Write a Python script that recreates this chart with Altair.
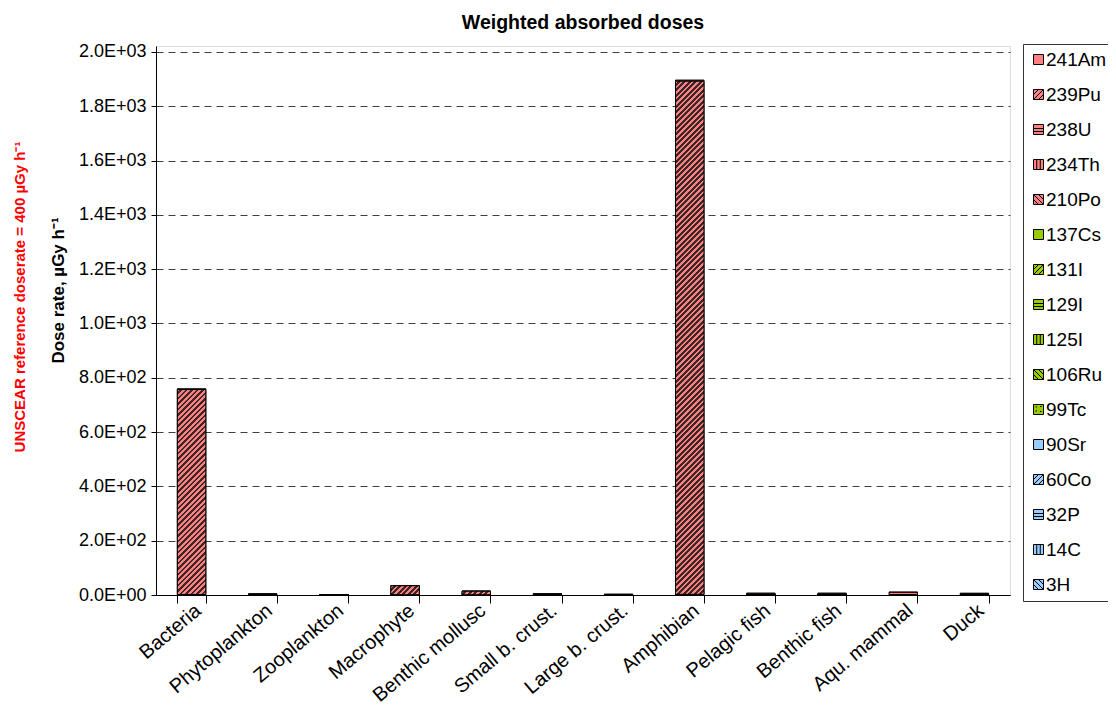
import altair as alt
import pandas as pd

categories = ["Bacteria", "Phytoplankton", "Zooplankton", "Macrophyte", "Benthic mollusc",
              "Small b. crust.", "Large b. crust.", "Amphibian", "Pelagic fish",
              "Benthic fish", "Aqu. mammal", "Duck"]
nuclides = ["241Am", "239Pu", "238U", "234Th", "210Po", "137Cs", "131I", "129I", "125I",
            "106Ru", "99Tc", "90Sr", "60Co", "32P", "14C", "3H"]
nuclide_colors = ["#FF8080"] * 5 + ["#99CC00"] * 6 + ["#99CCFF"] * 5

# dose rates per nuclide and organism (uGy/h)
am241 = [3.0, 0.5, 0.3, 1.0, 0.5, 0.5, 0.3, 4.0, 0.5, 0.5, 1.0, 0.5]
pu239 = [755.0, 3.0, 0.8, 33.0, 13.0, 3.5, 2.0, 1890.0, 4.5, 4.5, 8.0, 4.5]
po210 = [1.0, 0.5, 0.2, 0.5, 0.5, 0.3, 0.2, 1.0, 1.0, 1.0, 1.0, 0.8]
cs137 = [0.5, 0.2, 0.1, 0.3, 0.2, 0.2, 0.1, 1.0, 0.3, 0.3, 0.5, 0.3]
sr90 = [0.3, 0.1, 0.1, 0.2, 0.2, 0.1, 0.1, 0.5, 0.2, 0.2, 0.3, 0.2]
zeros = [0.0] * 12
series = {n: zeros for n in nuclides}
series.update({"241Am": am241, "239Pu": pu239, "210Po": po210, "137Cs": cs137, "90Sr": sr90})

title_text = "Weighted absorbed doses"
y_title = "Dose rate, µGy h⁻¹"
note_text = "UNSCEAR reference doserate = 400 µGy h⁻¹"
y_ticks = [0, 200, 400, 600, 800, 1000, 1200, 1400, 1600, 1800, 2000]

rows = []
for j, n in enumerate(nuclides):
    for i, c in enumerate(categories):
        rows.append({"category": c, "nuclide": n, "value": series[n][i],
                     "ord": len(nuclides) - 1 - j})
df = pd.DataFrame(rows)

# legend symbol paths hinting at the hatch of each series
SQ = "M-1,-1H1V1H-1Z"
FWD = SQ + " M-1,0L0,-1 M-1,1L1,-1 M0,1L1,0"
HOR = SQ + " M-1,-0.2H1 M-1,0.4H1"
VER = SQ + " M-0.35,-1V1 M0.35,-1V1"
BCK = SQ + " M-1,-1L1,1 M-1,0L0,1 M0,-1L1,0"
DOT = SQ + " M-0.6,-0.5h0.3 M0.3,-0.6h0.3 M0.3,0.4h0.3 M-0.6,0.3h0.3"
shape_paths = [SQ, FWD, HOR, VER, BCK, SQ, FWD, HOR, VER, BCK, DOT, SQ, FWD, HOR, VER, BCK]
shape_expr = ("[" + ",".join("'" + p + "'" for p in shape_paths) + "][indexof(["
              + ",".join("'" + n + "'" for n in nuclides) + "], datum.value)]")

PLOT_W, PLOT_H, Y_MAX = 854, 549, 2022
P_IN, P_OUT = 0.6, 0.3
FONT = "Liberation Sans"
SALMON, DARK = "#FF8080", "#3d2626"

x_enc = alt.X("category:N", sort=categories,
              scale=alt.Scale(paddingInner=P_IN, paddingOuter=P_OUT),
              axis=alt.Axis(title=None, labelAngle=-40, labelAlign="right",
                            labelBaseline="top", labelFontSize=20, labelFont=FONT,
                            labelColor="black", domainColor="black", tickColor="black",
                            tickSize=8, tickBand="extent",
                            labelPadding=alt.ExprRef(expr="-3"), grid=False))
y_scale = alt.Scale(domain=[0, Y_MAX], nice=False)
y_enc = alt.Y("y0:Q", scale=y_scale,
              axis=alt.Axis(title=y_title, values=y_ticks,
                            labelExpr="datum.value == 0 ? '0.0E+00' : format(datum.value / pow(10, floor(log(datum.value) / LN10 + 1e-9)), '.1f') + 'E+0' + floor(log(datum.value) / LN10 + 1e-9)",
                            labelFontSize=18, labelFont=FONT, labelColor="black",
                            domainColor="black", tickColor="black", tickSize=5,
                            labelPadding=5, gridColor="#404040", gridDash=[7, 5],
                            gridWidth=1, titleFont=FONT, titleFontSize=17,
                            titleFontWeight="bold", titleColor="black", titleAngle=270,
                            titleX=-98, titleY=244, titleAlign="center",
                            titleBaseline="middle"))

legend = alt.Legend(
    title=None, orient="none", legendX=867, legendY=-2, symbolSize=100,
    symbolType=alt.ExprRef(expr=shape_expr),
    symbolStrokeColor="black", symbolStrokeWidth=1, symbolOpacity=1,
    labelFontSize=19, labelFont=FONT, labelColor="black", rowPadding=15,
    padding=6, strokeColor="#333333", fillColor="white",
    labelOffset=alt.ExprRef(expr="-2"))
color_enc = alt.Color("nuclide:N", scale=alt.Scale(domain=nuclides, range=nuclide_colors),
                      legend=legend)

base = alt.Chart(df).transform_stack(
    stack="value", groupby=["category"], as_=["y0", "y1"],
    sort=[alt.SortField("ord", order="ascending")])

bars = base.mark_bar(stroke="black", strokeWidth=1).encode(
    x=x_enc, y=y_enc, y2="y1:Q", color=color_enc)


def hatch(w, h, period=5.5, dark=0.5):
    total = w + h
    dt = period / total
    stops = []
    t = 0.0
    while t < 1.0:
        td = min(t + dt * (1 - dark), 1.0)
        te = min(t + dt, 1.0)
        stops += [alt.GradientStop(offset=round(t, 5), color=SALMON),
                  alt.GradientStop(offset=round(td, 5), color=SALMON),
                  alt.GradientStop(offset=round(td, 5), color=DARK),
                  alt.GradientStop(offset=round(te, 5), color=DARK)]
        t += dt
    k = total / (w * w + h * h)
    return alt.LinearGradient(gradient="linear", stops=stops, x1=0, y1=0,
                              x2=round(k * w, 5), y2=round(k * h, 5))


step = PLOT_W / (len(categories) - P_IN + 2 * P_OUT)
bw = step * (1 - P_IN)
overlays = []
for i, c in enumerate(categories):
    h = pu239[i] * PLOT_H / Y_MAX
    if h < 3:
        continue
    overlays.append(
        base.transform_filter((alt.datum.nuclide == "239Pu") & (alt.datum.category == c))
        .mark_bar(fill=hatch(bw, h), stroke="black", strokeWidth=1)
        .encode(x=x_enc, y=y_enc, y2="y1:Q"))

note_df = pd.DataFrame({"note": [note_text]})
note = alt.Chart(note_df).mark_text(angle=270, color="#FF0000", fontWeight="bold",
                                    fontSize=15, font=FONT, align="center",
                                    baseline="middle").encode(
    x=alt.value(-136), y=alt.value(251), text="note:N")

chart = alt.layer(bars, *overlays, note).properties(
    width=PLOT_W, height=PLOT_H,
    title=alt.TitleParams(title_text, font=FONT, fontSize=19.5, fontWeight="bold",
                          color="black", anchor="middle", frame="group", offset=9),
    padding={"left": 148, "top": 38, "right": 98, "bottom": 125},
    autosize=alt.AutoSizeParams(type="none"),
).configure_view(stroke="#808080", strokeWidth=1).configure(background="white")

chart.save("out.html", embed_options={"renderer": "svg", "actions": False})
